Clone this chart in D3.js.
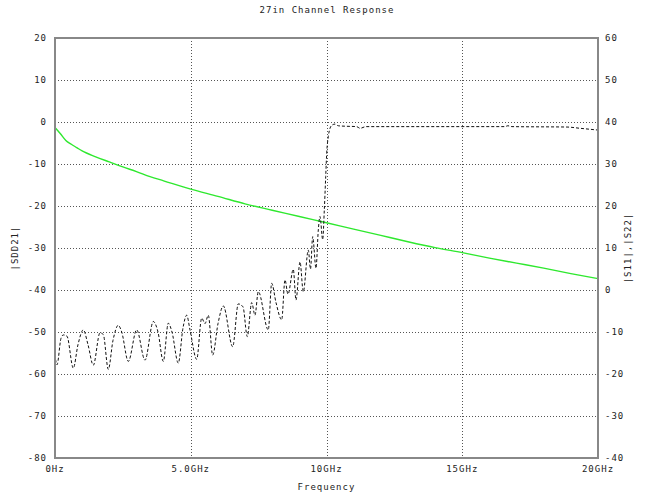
<!DOCTYPE html>
<html>
<head>
<meta charset="utf-8">
<script src="https://cdn.jsdelivr.net/npm/d3@7"></script>
<style>
  body { margin: 0; background: #fff; }
  text { font-family: "DejaVu Sans Mono", monospace; font-size: 9px; letter-spacing: 1px; fill: #222; }
</style>
</head>
<body>
<div id="chart"></div>
<script>
// green trace, |SDD21| (left axis)
var freqSdd21 = [0, 0.2, 0.4, 0.6, 0.8, 1.0, 1.5, 2, 2.5, 3, 3.5, 4, 5, 6, 7, 8, 9, 10, 11, 12, 13, 14, 15, 16, 17, 18, 19, 20];
var sdd21 = [-1.3, -2.8, -4.4, -5.3, -6.1, -6.9, -8.3, -9.5, -10.7, -11.8, -13.0, -14.0, -16.0, -17.7, -19.5, -21.0, -22.5, -24.0, -25.5, -27.0, -28.5, -29.9, -31.1, -32.4, -33.6, -34.8, -36.1, -37.3];

// black dashed trace, |S11|,|S22| (right axis)
var freqS11 = [0.018, 0.074, 0.221, 0.306, 0.442, 0.674, 0.847, 1.042, 1.215, 1.411, 1.657, 1.779, 1.963, 2.136, 2.331, 2.457, 2.700, 3.009, 3.315, 3.621, 3.794, 3.989, 4.173, 4.309, 4.541, 4.715, 4.851, 4.972, 5.219, 5.403, 5.525, 5.646, 5.808, 6.004, 6.199, 6.545, 6.751, 6.924, 7.083, 7.245, 7.366, 7.488, 7.856, 7.981, 8.140, 8.350, 8.471, 8.582, 8.777, 8.877, 9.024, 9.145, 9.330, 9.410, 9.492, 9.613, 9.698, 9.760, 9.860, 9.919, 9.971, 10.007, 10.066, 10.129, 10.213, 10.313, 10.434, 10.681, 11.112, 11.234, 11.455, 13.44, 16.57, 16.68, 16.83, 18.86, 19.34, 19.97];
var s11 = [-16.5, -17.8, -11.5, -10.7, -11, -18.6, -13, -9.5, -13, -17.9, -10.2, -10.6, -18.9, -12, -8.4, -10, -17, -9.5, -16.7, -7.5, -10, -17, -7.9, -10, -17.4, -9, -6, -9.5, -16.5, -6.7, -8, -6, -15.5, -8, -3.8, -13.5, -3.3, -4, -11.1, -3, -6, -0.4, -9.5, 1.6, -3, -7.1, 2.4, -1, 4.9, -2.4, 6.7, -0.4, 9.5, 5, 12.7, 5.2, 14.3, 17.5, 12, 19, 27, 32.5, 36.5, 38.5, 39.3, 39.5, 39.1, 39, 38.9, 38.5, 38.9, 38.9, 38.9, 39.1, 38.9, 38.8, 38.5, 38.1];

// axis ticks
var freqTicks = [0, 5, 10, 15, 20];
var freqTickLabels = ["0Hz", "5.0GHz", "10GHz", "15GHz", "20GHz"];
var leftTicks = [20, 10, 0, -10, -20, -30, -40, -50, -60, -70, -80];
var rightTicks = [60, 50, 40, 30, 20, 10, 0, -10, -20, -30, -40];

var svgWidth = 654, svgHeight = 495;
var margin = { top: 38, left: 55, right: 56, bottom: 37 };
var chartWidth = svgWidth - margin.left - margin.right;
var chartHeight = svgHeight - margin.top - margin.bottom;

var svg = d3.select("#chart").append("svg")
    .attr("width", svgWidth)
    .attr("height", svgHeight);

var chartGroup = svg.append("g")
    .attr("transform", `translate(${margin.left},${margin.top})`);

var xScale = d3.scaleLinear().domain([0, 20]).range([0, chartWidth]);
var yLeft = d3.scaleLinear().domain([-80, 20]).range([chartHeight, 0]);
var yRight = d3.scaleLinear().domain([-40, 60]).range([chartHeight, 0]);

// dotted grid
chartGroup.append("g").selectAll("line")
    .data(leftTicks.slice(1, -1))
    .enter().append("line")
    .attr("x1", 0).attr("x2", chartWidth)
    .attr("y1", d => Math.round(yLeft(d)) + 0.5)
    .attr("y2", d => Math.round(yLeft(d)) + 0.5)
    .attr("stroke", "#555").attr("stroke-dasharray", "1,2");

chartGroup.append("g").selectAll("line")
    .data(freqTicks.slice(1, -1))
    .enter().append("line")
    .attr("y1", 0).attr("y2", chartHeight)
    .attr("x1", d => Math.round(xScale(d)) + 0.5)
    .attr("x2", d => Math.round(xScale(d)) + 0.5)
    .attr("stroke", "#555").attr("stroke-dasharray", "1,2");

// traces
var greenLine = d3.line()
    .x((d, i) => xScale(freqSdd21[i]))
    .y(d => yLeft(d))
    .curve(d3.curveMonotoneX);

chartGroup.append("path")
    .datum(sdd21)
    .attr("d", greenLine)
    .attr("fill", "none")
    .attr("stroke", "#2ee82e")
    .attr("stroke-width", 1.4);

var blackLine = d3.line()
    .x((d, i) => xScale(freqS11[i]))
    .y(d => yRight(d))
    .curve(d3.curveMonotoneX);

chartGroup.append("path")
    .datum(s11)
    .attr("d", blackLine)
    .attr("fill", "none")
    .attr("stroke", "#111")
    .attr("stroke-width", 1)
    .attr("stroke-dasharray", "3,2");

// frame
chartGroup.append("rect")
    .attr("x", 0).attr("y", 0)
    .attr("width", chartWidth).attr("height", chartHeight)
    .attr("fill", "none")
    .attr("stroke", "#888")
    .attr("stroke-width", 2);

// axes labels (tick labels drawn from scales)
chartGroup.append("g").selectAll("text")
    .data(leftTicks)
    .enter().append("text")
    .attr("x", -8)
    .attr("y", d => yLeft(d) + 3)
    .attr("text-anchor", "end")
    .text(d => d);

chartGroup.append("g").selectAll("text")
    .data(rightTicks)
    .enter().append("text")
    .attr("x", chartWidth + 7)
    .attr("y", d => yRight(d) + 3)
    .text(d => d);

chartGroup.append("g").selectAll("text")
    .data(freqTicks)
    .enter().append("text")
    .attr("x", d => xScale(d))
    .attr("y", chartHeight + 14)
    .attr("text-anchor", "middle")
    .text((d, i) => freqTickLabels[i]);

// titles
svg.append("text")
    .attr("x", svgWidth / 2).attr("y", 13)
    .attr("text-anchor", "middle")
    .text("27in Channel Response");

svg.append("text")
    .attr("x", margin.left + chartWidth / 2).attr("y", 490)
    .attr("text-anchor", "middle")
    .text("Frequency");

svg.append("text")
    .attr("transform", `translate(18,${margin.top + chartHeight / 2}) rotate(-90)`)
    .attr("text-anchor", "middle")
    .text("|SDD21|");

svg.append("text")
    .attr("transform", `translate(631,${margin.top + chartHeight / 2}) rotate(-90)`)
    .attr("text-anchor", "middle")
    .text("|S11|,|S22|");
</script>
</body>
</html>
